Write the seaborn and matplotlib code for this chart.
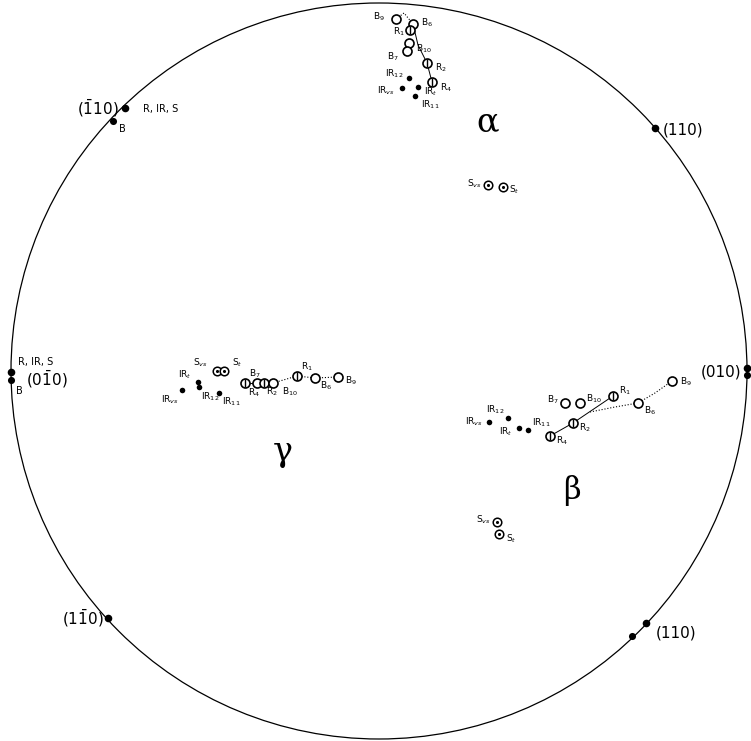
import seaborn as sns
import matplotlib.pyplot as plt
import pandas as pd
from matplotlib.patches import Circle

# Datos: posiciones (pixeles del dibujo) de los polos y puntos
# grupo alfa
alpha_names = ['B$_9$', 'B$_6$', 'R$_1$', 'B$_{10}$', 'B$_7$', 'R$_2$', 'R$_4$',
               'IR$_{12}$', 'IR$_{vs}$', 'IR$_t$', 'IR$_{11}$', 'S$_{vs}$', 'S$_t$']
alpha_x = [396, 413, 410, 409, 407, 427, 432, 409, 402, 418, 415, 488, 503]
alpha_y = [19, 24, 30, 43, 51, 63, 82, 78, 88, 87, 96, 185, 187]
alpha_kind = ['B', 'B', 'R', 'B', 'B', 'R', 'R', 'IR', 'IR', 'IR', 'IR', 'S', 'S']

# grupo beta
beta_names = ['B$_7$', 'B$_{10}$', 'R$_1$', 'B$_6$', 'B$_9$', 'R$_2$', 'R$_4$',
              'IR$_{vs}$', 'IR$_{12}$', 'IR$_t$', 'IR$_{11}$', 'S$_{vs}$', 'S$_t$']
beta_x = [565, 580, 613, 638, 672, 573, 550, 489, 508, 519, 528, 497, 499]
beta_y = [403, 403, 396, 403, 381, 423, 436, 422, 418, 428, 430, 522, 534]
beta_kind = ['B', 'B', 'R', 'B', 'B', 'R', 'R', 'IR', 'IR', 'IR', 'IR', 'S', 'S']

# grupo gamma
gamma_names = ['S$_{vs}$', 'S$_t$', 'IR$_t$', 'IR$_{12}$', 'IR$_{vs}$', 'IR$_{11}$',
               'R$_4$', 'B$_7$', 'R$_2$', 'B$_{10}$', 'R$_1$', 'B$_6$', 'B$_9$']
gamma_x = [217, 224, 198, 199, 182, 219, 245, 257, 264, 273, 297, 315, 338]
gamma_y = [371, 371, 382, 387, 390, 393, 383, 383, 383, 383, 376, 378, 377]
gamma_kind = ['S', 'S', 'IR', 'IR', 'IR', 'IR', 'R', 'B', 'R', 'B', 'R', 'B', 'B']

# polos sobre el circulo
pole_labels = ['(110)', '($\\mathrm{\\bar{1}}$10)', '(010)', '(0$\\mathrm{\\bar{1}}$0)',
               '(110)', '($\\mathrm{1\\bar{1}}$0)']
pole_x = [655, 125, 747, 11, 646, 108]
pole_y = [128, 108, 368, 372, 623, 618]
extra_x = [113, 747, 11, 632]
extra_y = [121, 375, 380, 636]

# lineas que unen las series
alpha_solid = ([413, 418, 427, 432], [24, 45, 63, 82])
alpha_dot = ([396, 404, 413], [19, 13, 24])
beta_solid = ([550, 573, 613], [436, 423, 396])
beta_dot = ([590, 615, 638, 655, 672], [412, 407, 403, 393, 381])
gamma_solid = ([245, 273], [383, 383])
gamma_dot = ([273, 297, 315, 338], [383, 376, 378, 377])

# etiquetas: desplazamiento del texto respecto al punto
alpha_off = [(-11, -2, 'right'), (8, -1, 'left'), (-5, 2, 'right'), (7, 6, 'left'),
             (-8, 6, 'right'), (8, 5, 'left'), (8, 6, 'left'), (-6, -4, 'right'),
             (-7, 3, 'right'), (6, 5, 'left'), (6, 9, 'left'), (-6, -1, 'right'),
             (6, 3, 'left')]
beta_off = [(-6, -3, 'right'), (6, -4, 'left'), (6, -5, 'left'), (6, 8, 'left'),
            (8, 1, 'left'), (6, 5, 'left'), (6, 5, 'left'), (-6, 0, 'right'),
            (-4, -8, 'right'), (-6, 4, 'right'), (4, -7, 'left'), (-6, -2, 'right'),
            (7, 5, 'left')]
gamma_off = [(-9, -8, 'right'), (8, -8, 'left'), (-6, -7, 'right'), (2, 10, 'left'),
             (-3, 10, 'right'), (3, 9, 'left'), (3, 10, 'left'), (-2, -9, 'center'),
             (2, 9, 'left'), (9, 9, 'left'), (4, -9, 'left'), (5, 8, 'left'),
             (7, 4, 'left')]

rows = []
for names, xs, ys, kinds in [(alpha_names, alpha_x, alpha_y, alpha_kind),
                             (beta_names, beta_x, beta_y, beta_kind),
                             (gamma_names, gamma_x, gamma_y, gamma_kind)]:
    for n, x, y, k in zip(names, xs, ys, kinds):
        rows.append({'name': n, 'x': x, 'y': y, 'kind': k})
df = pd.DataFrame(rows)

sns.set_style('white')
plt.rcParams['text.color'] = 'black'
fig = plt.figure(figsize=(7.51, 7.41), dpi=100)
ax = fig.add_axes([0, 0, 1, 1])
ax.set_xlim(0, 751)
ax.set_ylim(741, 0)
ax.axis('off')

ax.add_patch(Circle((379, 371), 368, fill=False, color='black', lw=0.9))

for xs, ys in [alpha_solid, beta_solid, gamma_solid]:
    ax.plot(xs, ys, color='black', lw=0.7, zorder=1)
for xs, ys in [alpha_dot, beta_dot, gamma_dot]:
    ax.plot(xs, ys, color='black', lw=0.8, ls=':', zorder=1)

open_pts = df[df['kind'].isin(['B', 'R'])]
sns.scatterplot(data=open_pts, x='x', y='y', marker='o', s=42, facecolor='white',
                edgecolor='black', linewidth=1.2, ax=ax, zorder=3, legend=False)
r_pts = df[df['kind'] == 'R']
sns.scatterplot(data=r_pts, x='x', y='y', marker='|', s=40, color='black',
                linewidth=1.0, ax=ax, zorder=4, legend=False)
s_pts = df[df['kind'] == 'S']
sns.scatterplot(data=s_pts, x='x', y='y', marker='o', s=38, facecolor='white',
                edgecolor='black', linewidth=1.1, ax=ax, zorder=3, legend=False)
sns.scatterplot(data=s_pts, x='x', y='y', marker='o', s=5, color='black',
                linewidth=0, ax=ax, zorder=4, legend=False)
ir_pts = df[df['kind'] == 'IR']
sns.scatterplot(data=ir_pts, x='x', y='y', marker='o', s=16, color='black',
                linewidth=0, ax=ax, zorder=3, legend=False)

sns.scatterplot(x=pole_x, y=pole_y, marker='o', s=30, color='black', linewidth=0,
                ax=ax, zorder=3, legend=False)
sns.scatterplot(x=extra_x, y=extra_y, marker='o', s=26, color='black', linewidth=0,
                ax=ax, zorder=3, legend=False)

for names, xs, ys, offs in [(alpha_names, alpha_x, alpha_y, alpha_off),
                            (beta_names, beta_x, beta_y, beta_off),
                            (gamma_names, gamma_x, gamma_y, gamma_off)]:
    for n, x, y, (dx, dy, ha) in zip(names, xs, ys, offs):
        ax.text(x + dx, y + dy, n, fontsize=6.5, ha=ha, va='center')

# etiquetas de los polos
pole_off = [(8, 2, 'left'), (-6, 0, 'right'), (-6, 4, 'right'), (15, 7, 'left'),
            (10, 10, 'left'), (-4, 0, 'right')]
for lab, x, y, (dx, dy, ha) in zip(pole_labels, pole_x, pole_y, pole_off):
    ax.text(x + dx, y + dy, lab, fontsize=11, ha=ha, va='center')
ax.text(143, 109, 'R, IR, S', fontsize=7, ha='left', va='center')
ax.text(122, 129, 'B', fontsize=7, ha='center', va='center')
ax.text(18, 362, 'R, IR, S', fontsize=7, ha='left', va='center')
ax.text(19, 391, 'B', fontsize=7, ha='center', va='center')

# letras griegas
ax.text(488, 122, 'α', fontsize=24, family='DejaVu Serif', ha='center', va='center')
ax.text(572, 490, 'β', fontsize=22, family='DejaVu Serif', ha='center', va='center')
ax.text(283, 452, 'γ', fontsize=24, family='DejaVu Serif', ha='center', va='center')

plt.savefig('out.png', dpi=100)
